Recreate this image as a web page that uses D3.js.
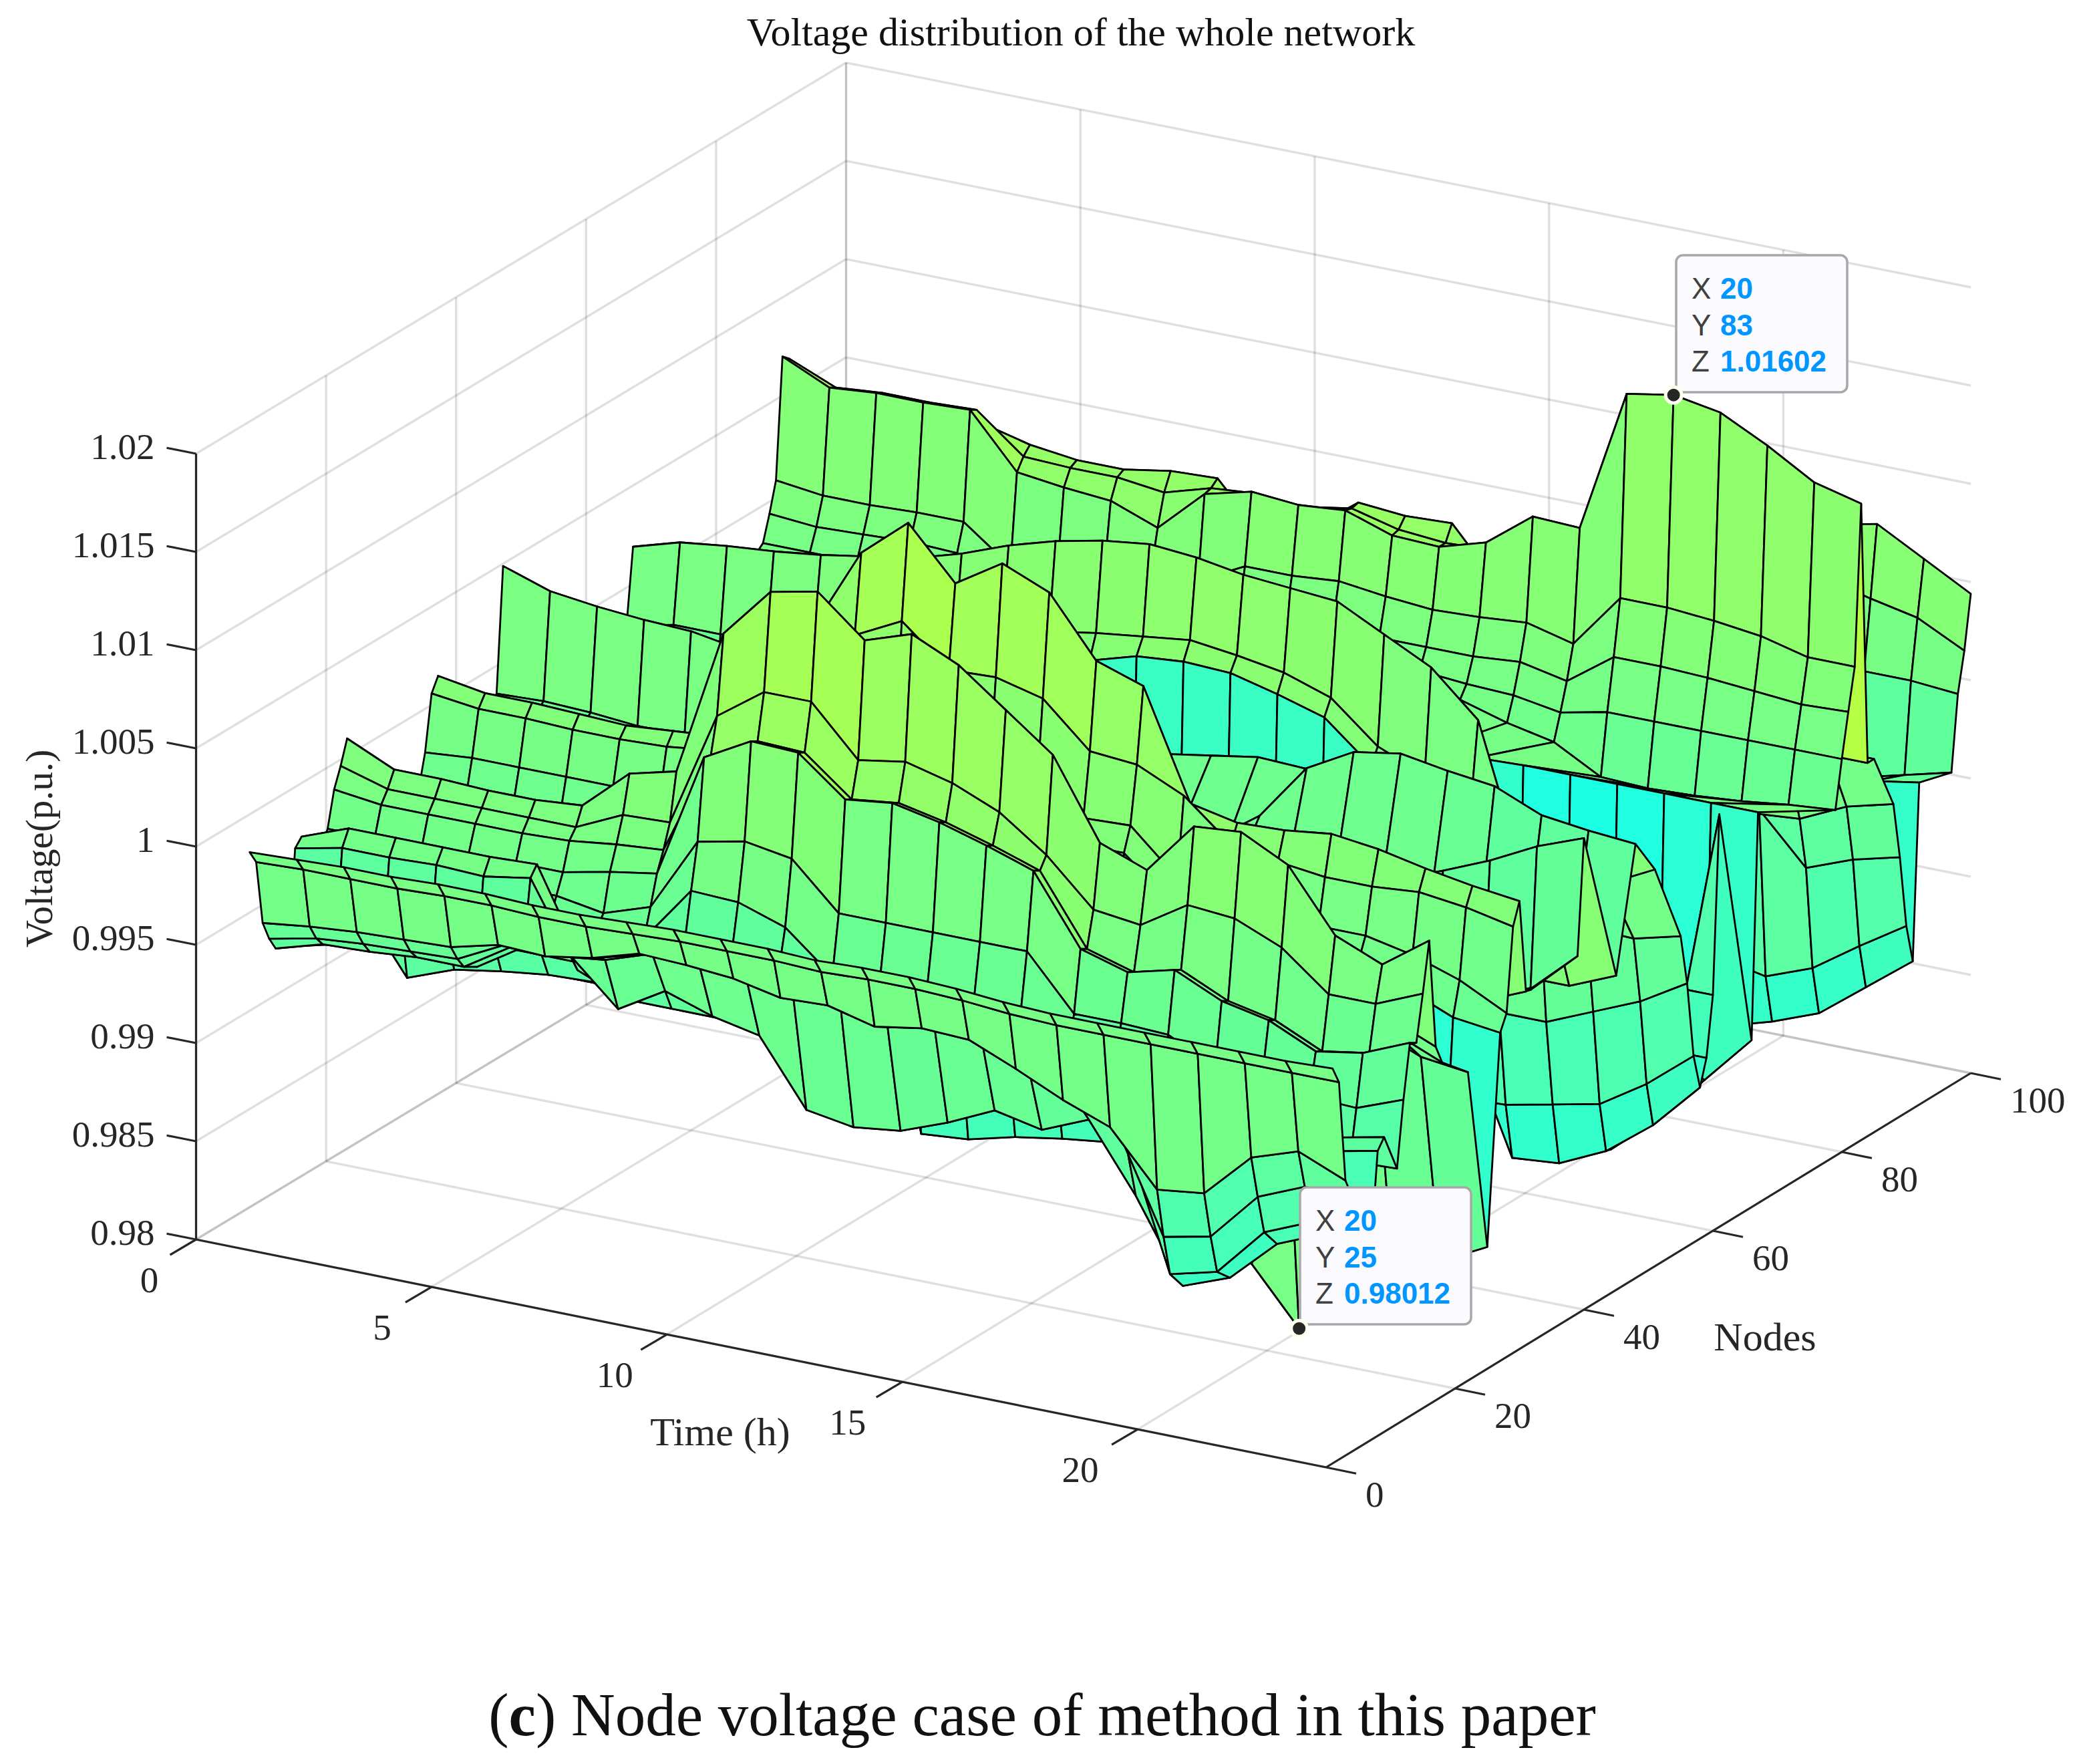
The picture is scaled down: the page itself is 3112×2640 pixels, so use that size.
<!DOCTYPE html>
<html><head><meta charset="utf-8">
<script src="https://cdn.jsdelivr.net/npm/d3@7/dist/d3.min.js"></script>
<style>html,body{margin:0;padding:0;background:#fff}svg{display:block}</style>
</head><body><div id="c"></div>
<script>
// Readings: hours, node numbers, then each node's voltage in thousandths above 0.98 p.u.
const hours=d3.range(1,25);
const xTicks=[0,5,10,15,20], yTicks=[0,20,40,60,80,100], zTicks=[0.98,0.985,0.99,0.995,1,1.005,1.01,1.015,1.02];
const zTickLabels=["0.98","0.985","0.99","0.995","1","1.005","1.01","1.015","1.02"];
const node1=[20,20.1,20.2,20.2,20.3,20.3,20.2,20.2,20.3,20.4,20.4,20.4,20.3,20.4,20.4,20.3,20.1,20,20,20,20,20,20,20.1];
const node2=[19.3,19.4,19.4,19.4,19.5,19.5,19.4,19.4,19.5,19.6,19.6,19.6,19.5,19.6,19.6,19.5,19.3,19.2,19.2,19.2,19.2,19.2,19.2,19.2];
const node3=[16,16.3,16.5,16.6,16.7,17.3,17.2,17.6,18.3,18.2,18,17.5,17.6,17,17.4,17.3,16.3,15.2,14.3,11.6,11.9,14.2,15,14];
const node4=[15,15.5,15.7,15.8,15.9,17.1,17,17.4,18.1,18,17.8,17.3,17.4,16.8,17.2,17.1,16.1,15,14.1,9,9.5,12,13,13];
const node5=[14.3,15,15.1,15.3,15.3,16.8,16.8,17.1,17.9,17.8,17.6,17.1,17.2,16.6,17,16.9,15.9,14.8,13.9,6.9,7.5,10,11,11];
const node7=[14,14.6,14.7,14.9,14.9,16.4,16.4,14.2,15.6,14.8,14.3,11,10.6,10.9,11.8,12.9,12.4,13.4,10,5.9,6.8,9,10,10];
const node8=[18.8,19.3,19.3,19.4,19.3,19.7,15.5,14.5,14.5,14.5,14.5,14.5,14.5,14.5,14.5,14.5,14.5,14.5,14.5,13,13,14,14,14.5];
const node9=[19.2,20.1,20.1,20.1,20.1,20.2,15.5,15,15,15,15,15,15,15,15,15,15,15,15,14,14,14.5,14.5,15];
const node11=[17,17,17,17,17,17,17,17,19.9,19.8,19,17,17,17,17,17,15,15,14,14,14,14,12.9,13];
const node12=[18,18,18,18,18,18,17.6,18.4,22.2,22.7,22.3,20,20,20,20,20,17.3,17.3,17.2,16,16,15.5,15.4,16.3];
const node13=[18.8,18.8,18.8,19,19,19,19.5,19.9,26.3,27.6,27.5,25.6,25.9,25.4,24.7,23.9,20.4,19.7,20.3,19.2,18.7,17.6,18,19];
const node14=[20.6,20.3,20.3,20.3,20.3,20.4,20.7,20.9,26.1,27.4,27.3,25.4,25.7,25.2,24.5,23.7,20.2,19.5,20.1,19,18.5,17.4,17.8,18.8];
const node15=[21.6,20.9,20.9,20.9,20.9,20.9,22,22.1,28,29.7,29.7,27.2,27.6,27,26,24.3,22,21.7,23.2,23,22,20.1,20.1,21.1];
const node16=[22.8,21.7,21.7,21.6,21.6,21.8,23.9,24.5,32,34.6,35.1,33.1,33.9,32.8,31,29.2,25.2,24.3,27,27.2,26,22.9,21.9,23.6];
const node17=[15,14,13.5,13.5,13.5,13.5,15,20,29,31,31,29,30,29,28,26,21,21,23,23,22,20,19,18];
const node18=[14,10.7,11.6,12,12.3,12.4,14,18,28,30,30,28,29,28,27,25,20,20,22,22,21,19,18,17];
const node22=[16,14,14,14,14.5,14.5,15,19,25,26,26,25,25,25,24,22,19,19,20,20,19,17,16,15.7];
const node25=[12,10.5,10.5,10.5,10.5,10.5,10.5,12,15,15,15,15,15,15,15,10,8,5,2.9,0.12,3,4,5,6.2];
const node27=[18,18,18,18,18,18,19,21,23,25,27,25,25,24,22,22,20,19,19,19,19,18,17,16.7];
const node28=[19.7,19.9,19.9,19.9,19.9,20,20,21,23,25,25,24,24,23.7,23.1,23.2,21,20,20,20,20,19.5,18.7,17.5];
const node29=[22.5,22.2,22.2,22.1,22.1,22.2,22.5,23.5,25,29.8,31,29,29.1,28.5,26.3,26.1,25,23,22.6,22.3,22.3,22.5,22.2,21.7];
const node30=[23.2,22.8,22.8,22.7,22.6,22.8,23,26,29.6,33.8,35.8,33.2,34.7,33.7,30.7,29.9,24.4,23.9,24,24.3,24,23.5,23.1,22.8];
const node31=[18,18,18,18,18,18,18,18,18,16,9,9,9,9,9,9,9,12,14,16,16,16,17,18];
const node32=[18,18,18,18,18,18,18,18,18,16,4.3,4.5,5.1,5.5,5.8,6.5,8,10,14,16,16,16,17,18];
const node39=[20.5,20.6,20.5,20.3,20.3,20,19,18,18,18,17,17,17,17,17,17,17,17,17,17,15.5,15,16,18.2];
const node40=[26.8,26,25.7,25.5,25.4,25,24,22,22,22,22,22,22,22,22,20,20,20,20,20,20.9,21.9,23.1,24];
const node45=[18,18,18,18,18,18,18,18,18,18,18,18,18,18,18,18,18,18,18,17,15,15,15,16];
const node48=[17,17,17,17,17,17,17,17,18,18,18,18,18,18,18,19.7,22.6,23.9,24.3,23.9,23.6,22.6,22.3,22.1];
const node51=[18,18,18,18,18,18,18,18,18,18,18,18,18,18,18,18,19,20,20,19,18,18,19,20.2];
const node55=[18,18,18,18,18,18,18,18,18,18,20,20,20,20.4,20.8,20.7,20.6,20,18,17,16,15.5,15.4,16];
const node56=[14,14,14,14,14,14,14,14,14,14,14,14,14,14,14,14,14,15,11,10,10,11,12,13.4];
const node57=[10,9,8,8,8,8,8,8,8,7.5,7,7,7,7,7,7,7,6,5,5.1,5.6,6.1,7.6,9.5];
const node58=[18,17,14,15,16,17,18,19,20,22,23.2,23.9,24.1,24,23.4,22.7,20.7,20,8,2.2,2.4,3.5,5.3,7.7];
const node59=[20,20.5,20.5,21,21.5,22,22.5,23,23.5,24,24.4,24.7,25,24.7,24.3,23.5,21.5,20.5,20,12,11,10,9,9];
const node60=[23.8,24.5,24.8,25,25.3,25.7,26.1,26.8,27.7,28.4,28.9,29.2,29,28.6,28.4,28.2,27,25.8,23.6,16,12,12,12,12];
const node61=[19,19,19,19,19,19,19,20,20,20,20,20,20,20,20,20,19,18,16,13,12,6,8,21];
const node66=[16,16,16,16,16,16,16,16,16,16,16,16,16,16,16,16,7,5,1.5,0.5,1.5,3.5,6,8.5];
const node67=[20,20,20,20,20,20,20,20,20,20,20,20,20,20,20,20,19.7,19.8,19.9,19.9,19.9,19.9,19.9,19.9];
const node79=[19.7,19.5,19.5,19.5,19.5,19.5,19.5,19.5,19.5,19.5,19.5,19.5,19.5,19.5,19.8,19.4,18.7,18.2,16.9,16.8,16.9,17.1,17.4,17.6];
const node80=[20,20,20,20,20,20,20,20,20,20,20,20,20,20,20.2,20,19.9,19.5,20,20,20,20,20,20];
const node81=[21.3,21.1,21.2,21.3,21.2,20.7,20.5,20.5,20.5,20.8,21,21,21.2,21.2,21.2,21.2,21.4,20.9,22.6,22.6,22.5,22.3,22.1,22.2];
const node82=[22.8,22.5,22.5,22.6,22.6,20.8,21,21.5,22,22,23.2,23.2,23.4,23.1,22.9,23,23.2,22.6,25.4,25.4,25.2,24.9,24.3,24.3];
const node83=[28.9,27.8,28,28,28.1,25.4,25.1,24.9,24,26.2,26.8,26.6,26.8,26,25.9,26.6,28.4,28.3,35.6,36.02,35.6,34.4,33,32.4];
const node84=[28.6,27.6,27.8,27.8,27.9,26,25.9,25.9,25.6,26.3,26.5,26.3,26.7,26.1,25.9,26,28.1,28,34,34.5,34,33,19,19];
const node85=[26,26,26,26,27,26.4,26.1,26.1,26.5,26.6,24,25,26.8,26.6,26.7,24,22,22,22,22,21,20,19,19];
const node88=[15,15,15,15,15,15,15,15,15,15,15,15,15,15,15,15,15,15,15,15,14.2,14.4,15.5,16.1];
const node89=[13,13,13,13,13,13,13,13,13,13,13,13,13,13,13,13,13,13,13,13,14.2,11.7,12.6,13.2];
const node90=[6,6,6,6,6,6,6,6,6,6,6,6,6,6,6,6,6,6,6,6,5.5,6.4,8,9.5];
const node91=[3,3,3,3,3,3,3,3,3,3,3,3,3,3,3,3,3,3,3,2.3,3,3.9,5.7,7.5];
const node92=[13,13,13,13,13,13,13,13,13,13,13,13,13,13,13,13,13,13,13,13,13,14.7,16,16.4];
const node97=[14,14,14,14,14,14,14,14,14,14,14,14,14,14,14,14,14,14,14,14,14,14.7,15.3,15.9];
const node98=[14.5,14.5,14.5,14.5,14.5,14.5,14.5,14.5,14.5,14.5,14.5,14.5,14.5,14.5,14.5,14.5,14.5,14.5,14.5,14.5,20,19.9,19.9,19.7];
const node99=[15,15,15,15,15,15,15,15,15,15,15,15,15,15,15,15,15,15,15,15,24,23.4,22.9,21.7];
const node100=[15,15,15,15,15,15,15,15,15,15,15,15,15,15,15,15,15,15,15,15,26.5,27,25.7,24.4];
const nodes=[1,2,3,4,5,7,8,9,11,12,13,14,15,16,17,18,22,25,27,28,29,30,31,32,39,40,45,48,51,55,56,57,58,59,60,61,66,67,79,80,81,82,83,84,85,88,89,90,91,92,97,98,99,100];
const rows=[node1,node2,node3,node4,node5,node7,node8,node9,node11,node12,node13,node14,node15,node16,node17,node18,node22,node25,node27,node28,node29,node30,node31,node32,node39,node40,node45,node48,node51,node55,node56,node57,node58,node59,node60,node61,node66,node67,node79,node80,node81,node82,node83,node84,node85,node88,node89,node90,node91,node92,node97,node98,node99,node100];
const tips=[{x:20,y:83,z:"1.01602",mv:36.02,boxX:2509,boxY:382},{x:20,y:25,z:"0.98012",mv:0.12,boxX:1946,boxY:1777}];

const W=3112,H=2640;
const svg=d3.select("#c").append("svg").attr("width",W).attr("height",H);
// near-oblique projection: each data axis contributes its own screen offset, with a slight depth correction
const xToX=d3.scaleLinear().domain([0,24]).range([293.5,1985]);
const xToY=d3.scaleLinear().domain([0,24]).range([1855,2196]);
const yToX=d3.scaleLinear().domain([0,100]).range([0,965]);
const yToY=d3.scaleLinear().domain([0,100]).range([0,-590]);
const zToY=d3.scaleLinear().domain([0.98,1.02]).range([0,-1176]);
const depthX=d3.scaleLinear().domain([0,2400]).range([8,0]);
const P=(x,y,z)=>{const k=depthX(x*100)*y/100;return [xToX(x)+yToX(y)+k,xToY(x)+yToY(y)+zToY(z)+k*0.6];};
const colour=d3.scaleLinear().domain([0.98,1.02]).range(["rgb(25,255,230)","rgb(214,255,35)"]);
const Z=mv=>0.98+mv/1000;
const serif='"Liberation Serif",serif', sans='"Liberation Sans",sans-serif', ink="#262626";
const line=d3.line();

// back planes and floor grid
const grid=[];
xTicks.forEach(x=>{grid.push([P(x,0,.98),P(x,100,.98)]);grid.push([P(x,100,.98),P(x,100,1.02)]);});
yTicks.forEach(y=>{grid.push([P(0,y,.98),P(24,y,.98)]);grid.push([P(0,y,.98),P(0,y,1.02)]);});
zTicks.forEach(z=>{grid.push([P(0,0,z),P(0,100,z)]);grid.push([P(0,100,z),P(24,100,z)]);});
svg.append("g").selectAll("path").data(grid).join("path").attr("d",line)
  .attr("fill","none").attr("stroke","rgba(38,38,38,0.15)").attr("stroke-width",3.4);

// axes
const axes=[[P(0,0,.98),P(0,0,1.02)],[P(0,0,.98),P(24,0,.98)],[P(24,0,.98),P(24,100,.98)]];
xTicks.forEach(x=>{const p=P(x,0,.98);axes.push([p,[p[0]-39,p[1]+23]]);});
yTicks.forEach(y=>{const p=P(24,y,.98);axes.push([p,[p[0]+45,p[1]+9.3]]);});
zTicks.forEach(z=>{const p=P(0,0,z);axes.push([p,[p[0]-44,p[1]-8.7]]);});
svg.append("g").selectAll("path").data(axes).join("path").attr("d",line)
  .attr("fill","none").attr("stroke",ink).attr("stroke-width",3.2);

// surface, painted back to front; a facet takes the colour of its lowest-index corner
const facets=[];
for(let j=nodes.length-2;j>=0;j--){
  for(let i=0;i<hours.length-1;i++){
    facets.push({c:Z(rows[j][i]),pts:[
      P(hours[i],nodes[j],Z(rows[j][i])),P(hours[i+1],nodes[j],Z(rows[j][i+1])),
      P(hours[i+1],nodes[j+1],Z(rows[j+1][i+1])),P(hours[i],nodes[j+1],Z(rows[j+1][i]))]});
  }
}
svg.append("g").selectAll("path").data(facets).join("path")
  .attr("d",d=>line(d.pts)+"Z").attr("fill",d=>colour(d.c))
  .attr("stroke","#000").attr("stroke-width",2.8).attr("stroke-linejoin","round");

// tick labels
const T=svg.append("g").attr("font-family",serif).attr("fill",ink).attr("font-size",55);
T.selectAll(".zt").data(zTicks).join("text").attr("class","zt")
  .attr("x",d=>P(0,0,d)[0]-62).attr("y",d=>P(0,0,d)[1]+8).attr("text-anchor","end").text((d,i)=>zTickLabels[i]);
T.selectAll(".xt").data(xTicks).join("text").attr("class","xt").attr("text-anchor","middle")
  .attr("x",d=>P(d,0,.98)[0]-70-d*0.8).attr("y",d=>P(d,0,.98)[1]+79).text(d=>d);
T.selectAll(".yt").data(yTicks).join("text").attr("class","yt")
  .attr("x",d=>P(24,d,.98)[0]+59).attr("y",d=>P(24,d,.98)[1]+59).text(d=>d);

// titles
svg.append("text").attr("x",1618).attr("y",68).attr("text-anchor","middle").attr("font-family",serif)
  .attr("font-size",60).attr("fill","#111").text("Voltage distribution of the whole network");
svg.append("text").attr("x",1078).attr("y",2163).attr("text-anchor","middle").attr("font-family",serif)
  .attr("font-size",60).attr("fill",ink).text("Time (h)");
svg.append("text").attr("x",2642).attr("y",2021).attr("text-anchor","middle").attr("font-family",serif)
  .attr("font-size",60).attr("fill",ink).text("Nodes");
svg.append("text").attr("transform","translate(78,1270) rotate(-90)").attr("text-anchor","middle").attr("font-family",serif)
  .attr("font-size",57).attr("fill",ink).text("Voltage(p.u.)");
const cap=svg.append("text").attr("x",1560).attr("y",2597).attr("text-anchor","middle").attr("font-family",serif)
  .attr("font-size",91).attr("fill","#111");
cap.append("tspan").text("(");
cap.append("tspan").attr("font-weight","bold").text("c");
cap.append("tspan").text(") Node voltage case of method in this paper");

// data tips
const tipG=svg.append("g").selectAll("g").data(tips).join("g");
tipG.append("rect").attr("x",d=>d.boxX).attr("y",d=>d.boxY).attr("width",256).attr("height",205).attr("rx",10)
  .attr("fill","#fafaff").attr("stroke","#a8a8a8").attr("stroke-width",3.5);
const lab=[["X",d=>d.x],["Y",d=>d.y],["Z",d=>d.z]];
lab.forEach((l,k)=>{
  tipG.append("text").attr("x",d=>d.boxX+23).attr("y",d=>d.boxY+65+k*54.5).attr("font-family",sans)
    .attr("font-size",44).attr("fill","#404040").text(l[0]);
  tipG.append("text").attr("x",d=>d.boxX+66).attr("y",d=>d.boxY+65+k*54.5).attr("font-family",sans)
    .attr("font-size",44).attr("font-weight","bold").attr("fill","#0096ff").text(l[1]);
});
tipG.append("circle").attr("cx",d=>P(d.x,d.y,Z(d.mv))[0]).attr("cy",d=>P(d.x,d.y,Z(d.mv))[1])
  .attr("r",12).attr("fill","#262626").attr("stroke","#fffff0").attr("stroke-width",5);
</script></body></html>
